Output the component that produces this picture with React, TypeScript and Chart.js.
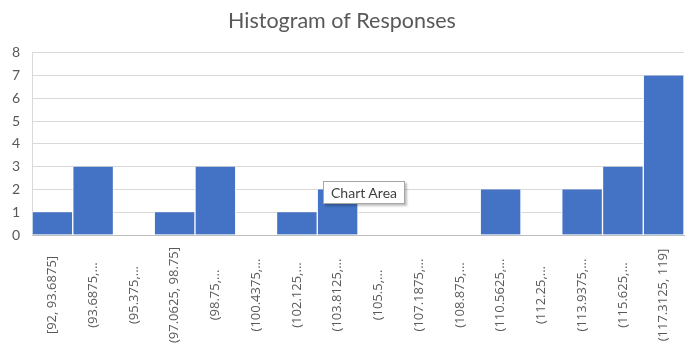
import React, { useEffect, useRef } from "react";
import { Chart, registerables } from "chart.js";

Chart.register(...registerables);

const chartTitle = "Histogram of Responses";
const binLabels = [
  "[92, 93.6875]",
  "(93.6875,...",
  "(95.375,...",
  "(97.0625, 98.75]",
  "(98.75,...",
  "(100.4375,...",
  "(102.125,...",
  "(103.8125,...",
  "(105.5,...",
  "(107.1875,...",
  "(108.875,...",
  "(110.5625,...",
  "(112.25,...",
  "(113.9375,...",
  "(115.625,...",
  "(117.3125, 119]",
];
const counts = [1, 3, 0, 1, 3, 0, 1, 2, 0, 0, 0, 2, 0, 2, 3, 7];
const yMin = 0;
const yMax = 8;

const FONT = "Lato, 'Open Sans', sans-serif";
const LABEL_FONT = "'Open Sans', sans-serif";
const TEXT = "#595959";

const centeredXLabels = {
  id: "centeredXLabels",
  afterDraw(chart: any) {
    const xs = chart.scales.x;
    const ctx = chart.ctx;
    ctx.save();
    ctx.fillStyle = TEXT;
    ctx.font = `13px ${LABEL_FONT}`;
    ctx.textAlign = "center";
    ctx.textBaseline = "middle";
    const cy = xs.top + 60;
    xs.ticks.forEach((_t: any, i: number) => {
      const x = xs.getPixelForTick(i);
      ctx.save();
      ctx.translate(x, cy);
      ctx.rotate(-Math.PI / 2);
      ctx.fillText(String(chart.data.labels[i]), 0, 0);
      ctx.restore();
    });
    ctx.restore();
  },
};

export default function App() {
  const ref = useRef<HTMLCanvasElement>(null);
  useEffect(() => {
    if (!ref.current) return;
    const chart = new Chart(ref.current, {
      type: "bar",
      data: {
        labels: binLabels,
        datasets: [
          {
            data: counts,
            backgroundColor: "#4472C4",
            borderColor: "#ffffff",
            borderWidth: { left: 1, right: 1, top: 0, bottom: 0 },
            borderSkipped: false,
            barPercentage: 1,
            categoryPercentage: 1,
          },
        ],
      },
      options: {
        animation: false,
        responsive: false,
        maintainAspectRatio: false,
        layout: { padding: { left: 0, right: 9, top: 0, bottom: 0 } },
        plugins: {
          legend: { display: false },
          tooltip: { enabled: false },
          title: {
            display: true,
            text: chartTitle,
            color: TEXT,
            font: { family: FONT, size: 21.5, weight: "normal" },
            padding: { top: 8, bottom: 19 },
          },
        },
        scales: {
          x: {
            grid: { display: false },
            border: { display: true, color: "#bfbfbf" },
            ticks: { display: false },
            afterFit: (s: any) => {
              s.height = 121;
            },
          },
          y: {
            min: yMin,
            max: yMax,
            grid: { color: "#d9d9d9", drawTicks: false },
            border: { display: true, color: "#d9d9d9" },
            ticks: {
              stepSize: 1,
              color: TEXT,
              padding: 12,
              font: { family: FONT, size: 14 },
            },
            afterFit: (s: any) => {
              s.width = 32;
            },
          },
        },
      },
      plugins: [centeredXLabels],
    });
    return () => chart.destroy();
  }, []);

  return (
    <div style={{ position: "fixed", left: 0, top: 0, width: 693, height: 356, background: "#fff" }}>
      <canvas ref={ref} width={693} height={356} style={{ display: "block" }} />
      <div
        style={{
          position: "absolute",
          left: 323,
          top: 181,
          width: 82,
          height: 23,
          boxSizing: "border-box",
          background: "#fff",
          border: "1px solid #a6a6a6",
          boxShadow: "2px 2px 2px rgba(0,0,0,0.25)",
          fontFamily: FONT,
          fontSize: 14,
          color: "#404040",
          lineHeight: "21px",
          textAlign: "center",
        }}
      >
        Chart Area
      </div>
    </div>
  );
}
